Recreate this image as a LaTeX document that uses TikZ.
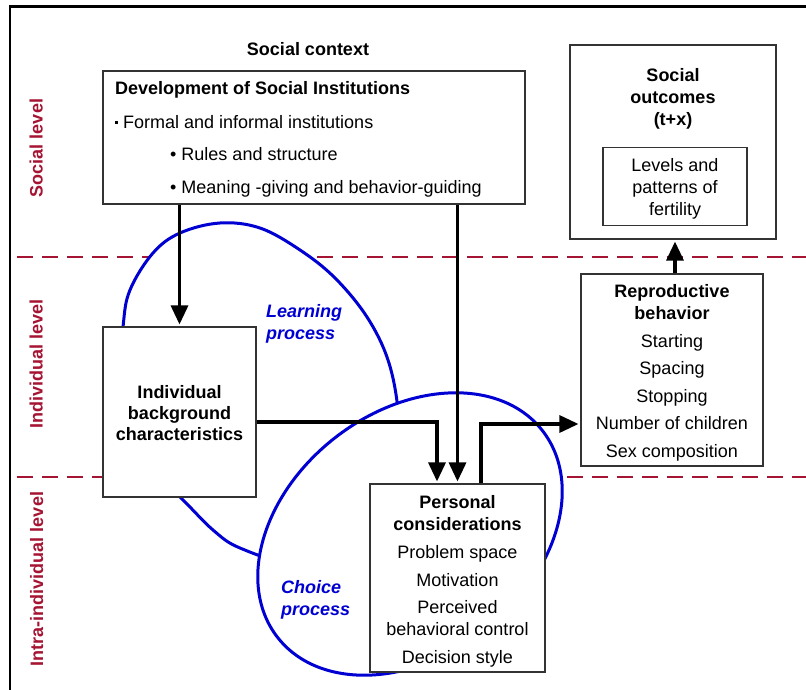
\documentclass[tikz,border=0pt]{standalone}
\usepackage{fontspec}
\setmainfont{Liberation Sans}
\usetikzlibrary{arrows.meta}
\definecolor{lvlred}{RGB}{165,20,50}
\definecolor{procblue}{RGB}{0,0,210}
\newcommand\diagfont{\fontsize{18}{22}\selectfont}
\begin{document}
\begin{tikzpicture}[x=1pt,y=-1pt,
  box/.style={draw=black!80, line width=1.1pt, fill=white, inner sep=0pt},
  txt/.style={inner sep=0pt, font=\diagfont},
  btxt/.style={inner sep=0pt, font=\diagfont\bfseries},
  side/.style={inner sep=0pt, font=\diagfont\bfseries, text=lvlred, rotate=90, anchor=base},
  proc/.style={inner sep=0pt, font=\diagfont\bfseries\itshape, text=procblue, align=left, anchor=west},
  arr/.style={line width=3.2pt, -{Triangle[width=17pt,length=19pt]}, shorten >=2pt},
  dsh/.style={draw=lvlred, line width=2pt, dash pattern=on 16pt off 9pt},
  blob/.style={draw=procblue, line width=3pt, fill=white}]
\useasboundingbox (0,0) rectangle (806,690);
\fill[white] (0,0) rectangle (806,690);
% frame
\draw[line width=2.5pt] (10,690) -- (10,6.5) -- (806,6.5);
% level dividers
\draw[dsh] (17,257) -- (806,257);
\draw[dsh] (17,477) -- (806,477);
% learning process area
\draw[blob] plot[smooth cycle, tension=0.6] coordinates {
  (123,327) (130,290) (153,253) (180,233) (220,223) (260,228) (300,250)
  (335,278) (367,317) (388,360) (398,410) (398,460) (380,510) (340,548)
  (290,562) (240,548) (213,530) (180,497) (140,460) (118,400)};
% choice process area
\draw[blob, rotate around={38:(410,534)}] (410,534) ellipse [x radius=168, y radius=122];
% boxes
\node[box, minimum width=422pt, minimum height=133pt] (dev) at (314,137.5) {};
\node[box, minimum width=206pt, minimum height=194pt] (out) at (673,142) {};
\node[box, minimum width=144pt, minimum height=78pt] (fert) at (675,186.5) {};
\node[box, minimum width=153pt, minimum height=170pt] (ind) at (179.5,412) {};
\node[box, minimum width=182pt, minimum height=192pt] (repr) at (672,370) {};
\node[box, minimum width=175pt, minimum height=188pt] (pers) at (457.5,578) {};
% texts
\node[btxt, anchor=base] (ctx) at (308,55.5) {Social context};
\node[btxt, anchor=base west] (devt) at (115,94.5) {Development of Social Institutions};
\node[txt, anchor=base west] (dev1) at (115,128.5) {\raisebox{5pt}{\rule{3pt}{3pt}}\hspace{5pt}Formal and informal institutions};
\node[txt, anchor=base west] (dev2) at (170,160.5) {• Rules and structure};
\node[txt, anchor=base west] (dev3) at (170,193.5) {• Meaning -giving and behavior-guiding};
\node[btxt, align=center] (outt) at (673,99) {Social\\outcomes\\(t+x)};
\node[txt, align=center] (fertt) at (675,189) {Levels and\\patterns of\\fertility};
\node[inner sep=0pt, font=\fontsize{18}{21}\selectfont\bfseries, align=center] (indt) at (179.5,413) {Individual\\background\\characteristics};
\node[txt, align=center] (reprt) at (672,373) {\textbf{Reproductive}\\\textbf{behavior}\\[5.5pt]Starting\\[5.5pt]Spacing\\[5.5pt]Stopping\\[5.5pt]Number of children\\[5.5pt]Sex composition};
\node[txt, align=center] (perst) at (457.5,581) {\textbf{Personal}\\\textbf{considerations}\\[6pt]Problem space\\[6pt]Motivation\\[5pt]Perceived\\behavioral control\\[6pt]Decision style};
\node[proc] (lrn) at (266,324) {Learning\\process};
\node[proc] (chc) at (281,600) {Choice\\process};
% level labels
\node[side] (lvs) at (42.5,148) {Social level};
\node[side] (lvi) at (42.5,364) {Individual level};
\node[side] (lva) at (43,579) {Intra-individual level};
% arrows
\draw[arr] (dev.south -| ind.north) -- (ind.north);
\draw[arr] (dev.south -| pers.north) -- (pers.north);
\draw[arr] ([yshift=-10pt]ind.east) -| ([xshift=-20.5pt]pers.north);
\draw[arr] ([xshift=23.5pt]pers.north) |- ([yshift=-54pt]repr.west);
\draw[arr] (repr.north -| fert.south) -- (out.south -| fert.south);
\end{tikzpicture}
\end{document}
